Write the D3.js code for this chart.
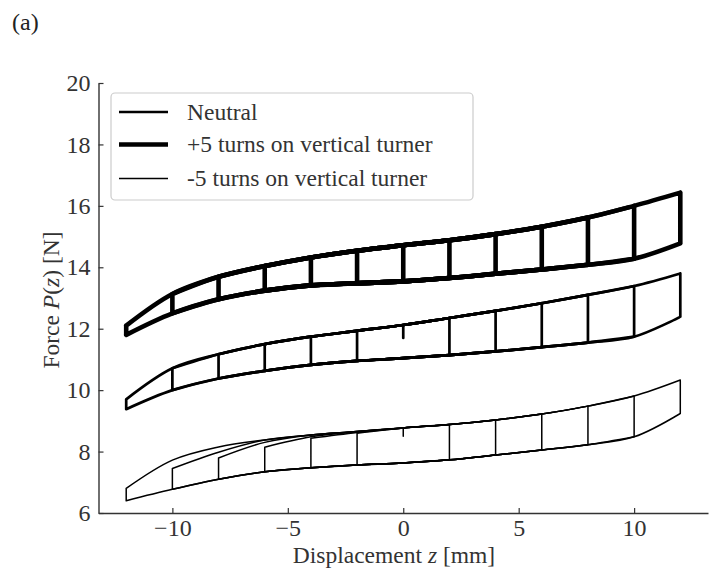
<!DOCTYPE html>
<html>
<head>
<meta charset="utf-8">
<script src="https://cdn.jsdelivr.net/npm/d3@7"></script>
<style>
  body { margin: 0; background: #fff; }
  svg { font-family: "Liberation Serif", "DejaVu Serif", serif; }
</style>
</head>
<body>
<div class="chart"></div>
<script>
const zs = [-12, -10, -8, -6, -4, -2, 0, 2, 4, 6, 8, 10, 12];
const amplitudes = [2, 4, 6, 8, 10, 12];

// Neutral
const neutralUpper = [9.7, 10.71, 11.17, 11.5, 11.74, 11.93, 12.12, 12.35, 12.58, 12.83, 13.1, 13.39, 13.8];
const neutralLower = [9.38, 10.0, 10.38, 10.63, 10.82, 10.95, 11.04, 11.14, 11.26, 11.4, 11.55, 11.74, 12.39];
const neutralTurn = [11.93, 11.74, 11.5, 11.17, 10.71, 9.7];   // top of the left reversal, per amplitude
const neutralNext = [12.12, 11.93, 11.74, 11.5, 11.17, 10.71]; // upper branch 2 mm after the reversal
const neutralStart = 11.7;

// +5 turns
const plusUpper = [12.1, 13.13, 13.69, 14.04, 14.32, 14.54, 14.72, 14.88, 15.08, 15.32, 15.62, 16.0, 16.43];
const plusLower = [11.8, 12.5, 12.96, 13.24, 13.41, 13.48, 13.54, 13.65, 13.79, 13.93, 14.08, 14.28, 14.78];
const plusTurn = [14.54, 14.32, 14.04, 13.69, 13.13, 12.1];
const plusNext = [14.72, 14.54, 14.32, 14.04, 13.69, 13.13];
const plusStart = 13.54;

// -5 turns
const minusUpper = [6.8, 7.72, 8.15, 8.38, 8.54, 8.65, 8.77, 8.88, 9.03, 9.22, 9.48, 9.81, 10.33];
const minusLower = [6.4, 6.77, 7.1, 7.34, 7.47, 7.56, 7.63, 7.73, 7.89, 8.05, 8.22, 8.48, 9.24];
const minusTurn = [8.6, 8.43, 8.14, 7.79, 7.45, 6.8];
const minusNext = [8.77, 8.62, 8.48, 8.3, 7.98, 7.72];
const minusStart = 8.5;

const legendLabels = ['Neutral', '+5 turns on vertical turner', '-5 turns on vertical turner'];
const xTicks = [-10, -5, 0, 5, 10];
const yTicks = [6, 8, 10, 12, 14, 16, 18, 20];

const series = [
  {upper: neutralUpper, lower: neutralLower, turn: neutralTurn, next: neutralNext, start: neutralStart, w: 2.7},
  {upper: plusUpper, lower: plusLower, turn: plusTurn, next: plusNext, start: plusStart, w: 4.6},
  {upper: minusUpper, lower: minusLower, turn: minusTurn, next: minusNext, start: minusStart, w: 1.5}
];

const width = 715, height = 574;
const svg = d3.select('.chart').append('svg')
  .attr('width', width)
  .attr('height', height);

const x = d3.scaleLinear().domain([-13.2, 13.2]).range([98.5, 708]);
const y = d3.scaleLinear().domain([6, 20]).range([513, 83]);

const branch = d3.line()
  .x(d => x(d[0]))
  .y(d => y(d[1]))
  .curve(d3.curveCatmullRom.alpha(0.5));

const plot = svg.append('g');

series.forEach(s => {
  amplitudes.forEach((A, k) => {
    const i0 = zs.indexOf(-A), i1 = zs.indexOf(A);
    const top = s.turn[k];
    const up = [[-A, top], [zs[i0 + 1], s.next[k]]];
    for (let i = i0 + 2; i <= i1; i++) up.push([zs[i], s.upper[i]]);
    const low = [];
    for (let i = i0; i <= i1; i++) low.push([zs[i], s.lower[i]]);
    const segs = [
      branch(up),
      branch(low),
      'M' + x(A) + ',' + y(s.upper[i1]) + 'L' + x(A) + ',' + y(s.lower[i1]),
      'M' + x(-A) + ',' + y(s.lower[i0]) + 'L' + x(-A) + ',' + y(top)
    ];
    plot.append('path')
      .attr('d', segs.join(''))
      .attr('fill', 'none')
      .attr('stroke', '#000')
      .attr('stroke-width', s.w)
      .attr('stroke-linecap', 'round')
      .attr('stroke-linejoin', 'round');
  });
  // start of the test at z = 0
  const iz = zs.indexOf(0);
  plot.append('line')
    .attr('x1', x(0)).attr('x2', x(0))
    .attr('y1', y(s.upper[iz])).attr('y2', y(s.start))
    .attr('stroke', '#000')
    .attr('stroke-width', s.w)
    .attr('stroke-linecap', 'round');
});

// axes, ticks pointing inwards
const xAxis = d3.axisBottom(x).tickValues(xTicks).tickSize(-5).tickSizeOuter(0).tickPadding(6);
const yAxis = d3.axisLeft(y).tickValues(yTicks).tickSize(-5).tickSizeOuter(0).tickPadding(8);

const gx = svg.append('g').attr('transform', 'translate(0,' + y(6) + ')').call(xAxis);
const gy = svg.append('g').attr('transform', 'translate(' + x(-13.2) + ',0)').call(yAxis);

[gx, gy].forEach(g => {
  g.select('.domain').attr('stroke', '#333').attr('stroke-width', 1.4);
  g.selectAll('.tick line').attr('stroke', '#333').attr('stroke-width', 1.2);
  g.selectAll('.tick text')
    .attr('fill', '#333')
    .attr('font-size', 24)
    .attr('font-family', '"Liberation Serif", serif');
});

svg.append('text')
  .attr('x', 394)
  .attr('y', 563)
  .attr('text-anchor', 'middle')
  .attr('font-size', 23.5)
  .attr('fill', '#333')
  .html('Displacement <tspan font-style="italic">z</tspan> [mm]');

svg.append('text')
  .attr('transform', 'translate(59,300) rotate(-90)')
  .attr('text-anchor', 'middle')
  .attr('font-size', 23.5)
  .attr('fill', '#333')
  .html('Force <tspan font-style="italic">P</tspan>(<tspan font-style="italic">z</tspan>) [N]');

svg.append('text')
  .attr('x', 12)
  .attr('y', 30)
  .attr('font-size', 24)
  .attr('fill', '#222')
  .text('(a)');

// legend
const legend = svg.append('g');
legend.append('rect')
  .attr('x', 111).attr('y', 93)
  .attr('width', 362).attr('height', 107)
  .attr('rx', 4)
  .attr('fill', '#fff')
  .attr('stroke', '#ccc')
  .attr('stroke-width', 1.2);

const rowY = [112, 144.5, 178.5];
legendLabels.forEach((lab, i) => {
  legend.append('line')
    .attr('x1', 119).attr('x2', 168)
    .attr('y1', rowY[i]).attr('y2', rowY[i])
    .attr('stroke', '#000')
    .attr('stroke-width', series[i].w);
  legend.append('text')
    .attr('x', 187)
    .attr('y', rowY[i] + 7.5)
    .attr('font-size', 23.5)
    .attr('fill', '#333')
    .text(lab);
});
</script>
</body>
</html>
